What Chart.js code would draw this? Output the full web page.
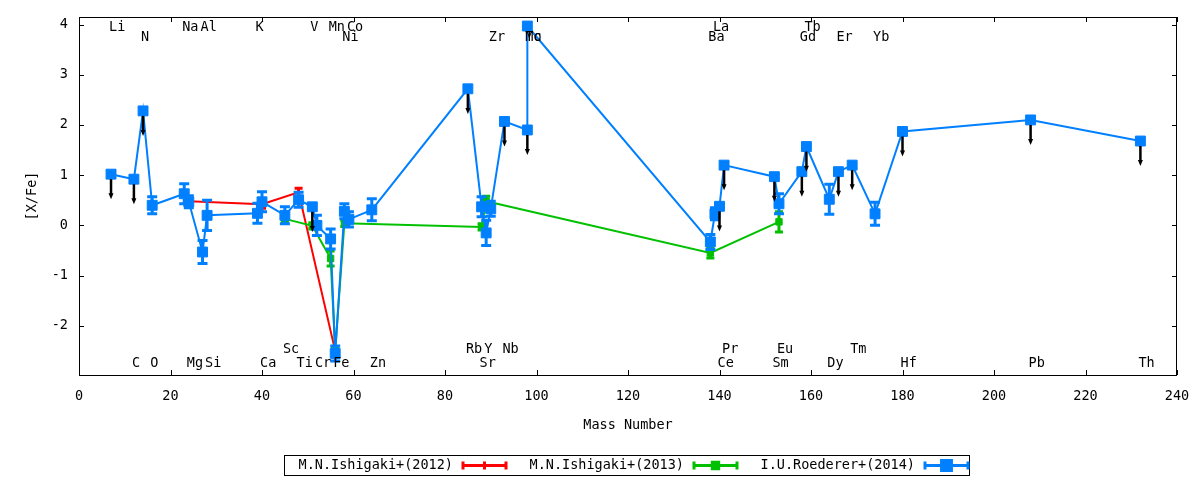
<!DOCTYPE html>
<html lang="en">
<head>
<meta charset="UTF-8">
<title>[X/Fe] vs Mass Number</title>
<script src="https://cdn.jsdelivr.net/npm/chart.js"></script>
<style>
  html, body { margin: 0; padding: 0; background: #fff; }
</style>
</head>
<body>
<canvas id="abund" width="1200" height="480"></canvas>
<script>
// M.N.Ishigaki+(2012)
const elem2012 = ['Mg', 'Ca', 'Ti', 'Fe'];
const mass2012 = [24, 40, 48, 56];
const xfe2012  = [0.48, 0.42, 0.66, -2.5];
const err2012  = [0.08, 0.08, 0.08, 0.08];

// M.N.Ishigaki+(2013)
const elem2013 = ['Sc', 'V', 'Mn', 'Fe', 'Ni', 'Sr', 'Y', 'Ba', 'Eu'];
const mass2013 = [45, 51, 55, 56, 58, 88, 89, 138, 153];
const xfe2013  = [0.13, -0.01, -0.66, -2.5, 0.04, -0.03, 0.48, -0.55, 0.07];
const err2013  = [0.06, 0.06, 0.15, 0.08, 0.06, 0.06, 0.1, 0.1, 0.2];

// I.U.Roederer+(2014), ul = 1 means upper limit
const elem2014 = ['Li', 'C', 'N', 'O', 'Na', 'Mg', 'Al', 'Si', 'K', 'Ca', 'Sc', 'Ti', 'V', 'Cr', 'Mn', 'Fe',
  'Ni', 'Co', 'Zn', 'Rb', 'Sr', 'Y', 'Zr', 'Nb', 'Mo', 'Tc', 'Ba', 'La', 'Ce', 'Pr', 'Sm', 'Eu',
  'Gd', 'Tb', 'Dy', 'Er', 'Tm', 'Yb', 'Hf', 'Pb', 'Th'];
const mass2014 = [7, 12, 14, 16, 23, 24, 27, 28, 39, 40, 45, 48, 51, 52, 55, 56,
  58, 59, 64, 85, 88, 89, 90, 93, 98, 98, 138, 139, 140, 141, 152, 153,
  158, 159, 164, 166, 169, 174, 180, 208, 232];
const xfe2014 = [1.02, 0.92, 2.28, 0.40, 0.63, 0.47, -0.53, 0.20, 0.24, 0.47, 0.20, 0.51, 0.37, 0.00, -0.27, -2.55,
  0.28, 0.12, 0.31, 2.72, 0.37, -0.15, 0.33, 2.07, 1.90, 3.97, -0.33, 0.23, 0.38, 1.20, 0.97, 0.43,
  1.07, 1.57, 0.52, 1.07, 1.20, 0.23, 1.87, 2.10, 1.68];
const err2014 = [0, 0, 0, 0.17, 0.2, 0.12, 0.23, 0.3, 0.2, 0.2, 0.17, 0.15, 0, 0.2, 0.2, 0.15,
  0.15, 0.15, 0.22, 0, 0.2, 0.25, 0.15, 0, 0, 0, 0.15, 0.12, 0, 0, 0, 0.2,
  0, 0, 0.3, 0, 0, 0.23, 0, 0, 0];
const ul2014 = [1, 1, 1, 0, 0, 0, 0, 0, 0, 0, 0, 0, 1, 0, 0, 0,
  0, 0, 0, 1, 0, 0, 0, 1, 1, 0, 0, 0, 1, 1, 1, 0,
  1, 1, 0, 1, 1, 0, 1, 1, 1];

// element names written along the top and bottom of the frame
const labNames = ['Li', 'Na', 'Al', 'K', 'V', 'Mn', 'Co', 'La', 'Tb',
  'N', 'Ni', 'Zr', 'Mo', 'Tc', 'Ba', 'Gd', 'Er', 'Yb',
  'Sc', 'Rb', 'Y', 'Nb', 'Pr', 'Eu', 'Tm',
  'C', 'O', 'Mg', 'Si', 'Ca', 'Ti', 'Cr', 'Fe', 'Zn', 'Sr', 'Ce', 'Sm', 'Dy', 'Hf', 'Pb', 'Th'];
const labMass = [7, 23, 27, 39, 51, 55, 59, 139, 159,
  14, 58, 90, 98, 98, 138, 158, 166, 174,
  45, 85, 89, 93, 141, 153, 169,
  12, 16, 24, 28, 40, 48, 52, 56, 64, 88, 140, 152, 164, 180, 208, 232];
const labRow = [0, 0, 0, 0, 0, 0, 0, 0, 0,
  1, 1, 1, 1, 1, 1, 1, 1, 1,
  2, 2, 2, 2, 2, 2, 2,
  3, 3, 3, 3, 3, 3, 3, 3, 3, 3, 3, 3, 3, 3, 3, 3];

const xTicks = [0, 20, 40, 60, 80, 100, 120, 140, 160, 180, 200, 220, 240];
const yTicks = [-2, -1, 0, 1, 2, 3, 4];

const FONT = '"DejaVu Sans Mono", monospace';
Chart.defaults.font.family = FONT;
Chart.defaults.font.size = 13.5;
Chart.defaults.color = '#000';

function pts(m, v) {
  return m.map((x, i) => ({ x: x, y: v[i] }));
}

function drawCapBar(ctx, px, y1, y2, cap) {
  ctx.beginPath();
  ctx.moveTo(px, y1); ctx.lineTo(px, y2);
  ctx.moveTo(px - cap, y1); ctx.lineTo(px + cap, y1);
  ctx.moveTo(px - cap, y2); ctx.lineTo(px + cap, y2);
  ctx.stroke();
}

const extras = {
  id: 'extras',
  afterDatasetDraw(chart, args) {
    const ds = chart.data.datasets[args.index];
    const xs = chart.scales.x, ys = chart.scales.y, ctx = chart.ctx;
    ctx.save();
    ctx.strokeStyle = ds.borderColor;
    ctx.lineWidth = 3;
    ds.data.forEach((p, i) => {
      const e = ds.errors[i];
      if (!e) return;
      const px = xs.getPixelForValue(p.x);
      drawCapBar(ctx, px, ys.getPixelForValue(p.y + e), ys.getPixelForValue(p.y - e), ds.capSize);
    });
    ctx.restore();
  },
  afterDatasetsDraw(chart) {
    const xs = chart.scales.x, ys = chart.scales.y, ctx = chart.ctx;
    const a = chart.chartArea;
    ctx.save();

    // upper limit arrows
    ctx.strokeStyle = '#000';
    ctx.fillStyle = '#000';
    ctx.lineWidth = 2.5;
    mass2014.forEach((m, i) => {
      if (!ul2014[i]) return;
      const px = xs.getPixelForValue(m);
      const y0 = ys.getPixelForValue(xfe2014[i]) + 5;
      const y1 = ys.getPixelForValue(xfe2014[i] - 0.5);
      ctx.beginPath(); ctx.moveTo(px, y0); ctx.lineTo(px, y1 - 4); ctx.stroke();
      ctx.beginPath();
      ctx.moveTo(px - 2.5, y1 - 6); ctx.lineTo(px + 2.5, y1 - 6); ctx.lineTo(px, y1);
      ctx.closePath(); ctx.fill();
    });

    // frame and inward ticks
    ctx.lineWidth = 1;
    ctx.strokeRect(a.left + 0.5, a.top + 0.5, a.right - a.left - 1, a.bottom - a.top);
    ctx.beginPath();
    xTicks.forEach(v => {
      const px = Math.round(xs.getPixelForValue(v)) + 0.5;
      ctx.moveTo(px, a.bottom); ctx.lineTo(px, a.bottom - 5);
      ctx.moveTo(px, a.top); ctx.lineTo(px, a.top + 5);
    });
    yTicks.forEach(v => {
      const py = Math.round(ys.getPixelForValue(v)) + 0.5;
      ctx.moveTo(a.left, py); ctx.lineTo(a.left + 5, py);
      ctx.moveTo(a.right, py); ctx.lineTo(a.right - 5, py);
    });
    ctx.stroke();

    // element names
    ctx.font = '13.5px ' + FONT;
    ctx.textAlign = 'left';
    ctx.textBaseline = 'middle';
    const rowY = [a.top + 10, a.top + 20.5, a.bottom - 26, a.bottom - 11.5];
    labNames.forEach((n, i) => {
      ctx.fillText(n, xs.getPixelForValue(labMass[i]) - 2, rowY[labRow[i]]);
    });

    // axis titles
    ctx.textAlign = 'center';
    ctx.fillText('Mass Number', (a.left + a.right) / 2, 425);
    ctx.save();
    ctx.translate(32, (a.top + a.bottom) / 2);
    ctx.rotate(-Math.PI / 2);
    ctx.fillText('[X/Fe]', 0, 0);
    ctx.restore();

    // key box
    ctx.strokeRect(284.5, 455.5, 685, 20);
    chart.data.datasets.forEach((ds, i) => {
      const tx = 453 + 231 * i, sx1 = 463 + 231 * i, sx2 = 506 + 231 * i, cy = 465.5;
      ctx.fillStyle = '#000';
      ctx.textAlign = 'right';
      ctx.fillText(ds.label, tx, cy);
      ctx.strokeStyle = ds.borderColor;
      ctx.lineWidth = 3;
      ctx.beginPath();
      ctx.moveTo(sx1, cy); ctx.lineTo(sx2, cy);
      ctx.moveTo(sx1, cy - 4); ctx.lineTo(sx1, cy + 4);
      ctx.moveTo(sx2, cy - 4); ctx.lineTo(sx2, cy + 4);
      ctx.stroke();
      ctx.fillStyle = ds.borderColor;
      Chart.helpers.drawPoint(ctx, {
        pointStyle: ds.pointStyle, radius: ds.pointRadius, borderWidth: ds.pointBorderWidth, rotation: 0
      }, (sx1 + sx2) / 2, cy);
      ctx.fill();
    });
    ctx.restore();
  }
};

new Chart(document.getElementById('abund'), {
  type: 'scatter',
  data: {
    datasets: [
      {
        label: 'M.N.Ishigaki+(2012)', data: pts(mass2012, xfe2012), errors: err2012, capSize: 4,
        showLine: true, borderColor: '#ff0000', backgroundColor: '#ff0000', borderWidth: 2,
        pointStyle: 'cross', pointRadius: 4, pointBorderWidth: 2, order: 3
      },
      {
        label: 'M.N.Ishigaki+(2013)', data: pts(mass2013, xfe2013), errors: err2013, capSize: 4,
        showLine: true, borderColor: '#00c000', backgroundColor: '#00c000', borderWidth: 2,
        pointStyle: 'rect', pointRadius: 4.5, pointBorderWidth: 1, order: 2
      },
      {
        label: 'I.U.Roederer+(2014)', data: pts(mass2014, xfe2014), errors: err2014, capSize: 5,
        showLine: true, borderColor: '#0080ff', backgroundColor: '#0080ff', borderWidth: 2,
        pointStyle: 'rect', pointRadius: 7, pointBorderWidth: 1, order: 1
      }
    ]
  },
  options: {
    responsive: false,
    animation: false,
    layout: { autoPadding: false, padding: { left: 0, right: 23, top: 17, bottom: 0 } },
    plugins: { legend: { display: false }, tooltip: { enabled: false } },
    scales: {
      x: {
        type: 'linear', min: 0, max: 240,
        grid: { display: false, drawTicks: false },
        border: { display: false },
        ticks: { padding: 13, maxRotation: 0 },
        afterBuildTicks: s => { s.ticks = xTicks.map(v => ({ value: v })); },
        afterFit: s => { s.height = 105; s.paddingLeft = 0; s.paddingRight = 0; }
      },
      y: {
        type: 'linear', min: -2.98, max: 4.15,
        grid: { display: false, drawTicks: false },
        border: { display: false },
        ticks: { padding: 11 },
        afterBuildTicks: s => { s.ticks = yTicks.map(v => ({ value: v })); },
        afterFit: s => { s.width = 79; s.paddingTop = 0; s.paddingBottom = 0; }
      }
    }
  },
  plugins: [extras]
});
</script>
</body>
</html>
